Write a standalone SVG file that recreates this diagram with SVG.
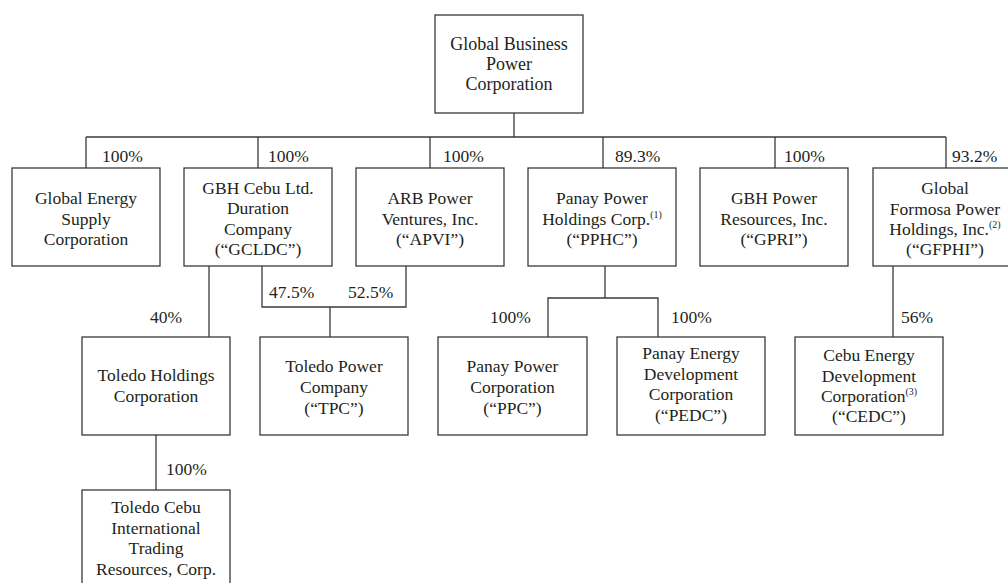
<svg xmlns="http://www.w3.org/2000/svg" width="1008" height="583" viewBox="0 0 1008 583">
<style>
.box{fill:#fff;stroke:#3a3a3a;stroke-width:1.3}
text{font-family:'Liberation Serif','DejaVu Serif',serif;fill:#231f20}
.t{font-size:17.5px;text-anchor:middle}
.top{font-size:18px}
.lbl{font-size:17.5px}
.sup{font-size:10px}
.c{fill:none;stroke:#3a3a3a;stroke-width:1.3}
</style>
<rect width="1008" height="583" fill="#fff"/>
<g id="connectors">
<path class="c" d="M514 113V137M86 137H946M86 137V168M258 137V168M430 137V168M603 137V168M775 137V168M946 137V168"/>
<path class="c" d="M209 266V337M262 266V307H406V266M330 307V337"/>
<path class="c" d="M605 266V298M548 337V298H658V337"/>
<path class="c" d="M893 266V337M156 435V490"/>
<text class="lbl" font-family="Liberation Serif, serif" x="102" y="162">100%</text>
<text class="lbl" font-family="Liberation Serif, serif" x="268" y="162">100%</text>
<text class="lbl" font-family="Liberation Serif, serif" x="443" y="162">100%</text>
<text class="lbl" font-family="Liberation Serif, serif" x="615" y="162">89.3%</text>
<text class="lbl" font-family="Liberation Serif, serif" x="784" y="162">100%</text>
<text class="lbl" font-family="Liberation Serif, serif" x="952" y="162">93.2%</text>
<text class="lbl" font-family="Liberation Serif, serif" x="150" y="323">40%</text>
<text class="lbl" font-family="Liberation Serif, serif" x="269" y="298">47.5%</text>
<text class="lbl" font-family="Liberation Serif, serif" x="348" y="298">52.5%</text>
<text class="lbl" font-family="Liberation Serif, serif" x="490" y="323">100%</text>
<text class="lbl" font-family="Liberation Serif, serif" x="671" y="323">100%</text>
<text class="lbl" font-family="Liberation Serif, serif" x="901" y="323">56%</text>
<text class="lbl" font-family="Liberation Serif, serif" x="166" y="475">100%</text>
</g>
<g id="gbpc">
<rect class="box" x="435" y="15" width="148" height="98"/>
<text class="t top" x="509" y="50">Global Business</text>
<text class="t top" x="509" y="70">Power</text>
<text class="t top" x="509" y="90">Corporation</text>
</g>
<g id="gesc">
<rect class="box" x="12" y="168" width="148" height="98"/>
<text class="t" x="86" y="204">Global Energy</text>
<text class="t" x="86" y="224.5">Supply</text>
<text class="t" x="86" y="245">Corporation</text>
</g>
<g id="gcldc">
<rect class="box" x="184" y="168" width="148" height="98"/>
<text class="t" x="258" y="193.5">GBH Cebu Ltd.</text>
<text class="t" x="258" y="214">Duration</text>
<text class="t" x="258" y="234.5">Company</text>
<text class="t" x="258" y="255">(“GCLDC”)</text>
</g>
<g id="apvi">
<rect class="box" x="356" y="168" width="148" height="98"/>
<text class="t" x="430" y="204">ARB Power</text>
<text class="t" x="430" y="224.5">Ventures, Inc.</text>
<text class="t" x="430" y="245">(“APVI”)</text>
</g>
<g id="pphc">
<rect class="box" x="528" y="168" width="148" height="98"/>
<text class="t" x="602" y="204">Panay Power</text>
<text class="t" x="602" y="224.5">Holdings Corp.<tspan class="sup" dy="-7">(1)</tspan></text>
<text class="t" x="602" y="245">(“PPHC”)</text>
</g>
<g id="gpri">
<rect class="box" x="700" y="168" width="148" height="98"/>
<text class="t" x="774" y="204">GBH Power</text>
<text class="t" x="774" y="224.5">Resources, Inc.</text>
<text class="t" x="774" y="245">(“GPRI”)</text>
</g>
<g id="gfphi">
<rect class="box" x="873" y="168" width="146" height="98"/>
<text class="t" x="945" y="194">Global</text>
<text class="t" x="945" y="214.5">Formosa Power</text>
<text class="t" x="945" y="235">Holdings, Inc.<tspan class="sup" dy="-7">(2)</tspan></text>
<text class="t" x="945" y="255">(“GFPHI”)</text>
</g>
<g id="thc">
<rect class="box" x="82" y="337" width="148" height="98"/>
<text class="t" x="156" y="380.5">Toledo Holdings</text>
<text class="t" x="156" y="401.5">Corporation</text>
</g>
<g id="tpc">
<rect class="box" x="260" y="337" width="148" height="98"/>
<text class="t" x="334" y="372">Toledo Power</text>
<text class="t" x="334" y="393">Company</text>
<text class="t" x="334" y="414">(“TPC”)</text>
</g>
<g id="ppc">
<rect class="box" x="438" y="337" width="149" height="98"/>
<text class="t" x="512.5" y="372">Panay Power</text>
<text class="t" x="512.5" y="393">Corporation</text>
<text class="t" x="512.5" y="414">(“PPC”)</text>
</g>
<g id="pedc">
<rect class="box" x="617" y="337" width="148" height="98"/>
<text class="t" x="691" y="359">Panay Energy</text>
<text class="t" x="691" y="379.5">Development</text>
<text class="t" x="691" y="400">Corporation</text>
<text class="t" x="691" y="420.5">(“PEDC”)</text>
</g>
<g id="cedc">
<rect class="box" x="795" y="337" width="148" height="98"/>
<text class="t" x="869" y="361">Cebu Energy</text>
<text class="t" x="869" y="381.5">Development</text>
<text class="t" x="869" y="402">Corporation<tspan class="sup" dy="-7">(3)</tspan></text>
<text class="t" x="869" y="422">(“CEDC”)</text>
</g>
<g id="tcitrc">
<rect class="box" x="82" y="490" width="148" height="98"/>
<text class="t" x="156" y="513">Toledo Cebu</text>
<text class="t" x="156" y="533.5">International</text>
<text class="t" x="156" y="554">Trading</text>
<text class="t" x="156" y="574.5">Resources, Corp.</text>
</g>
</svg>
